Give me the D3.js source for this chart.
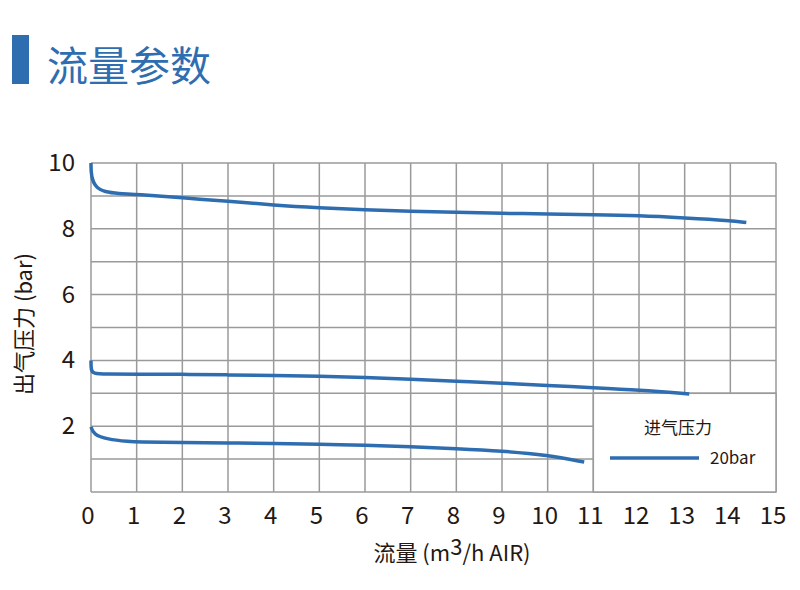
<!DOCTYPE html>
<html><head><meta charset="utf-8">
<script src="https://cdn.jsdelivr.net/npm/d3@7"></script>
<style>body{margin:0;background:#fff;}svg{display:block;font-family:"Noto Sans CJK SC","Noto Sans",sans-serif;}</style>
</head><body>
<svg id="c" width="800" height="590"></svg>
<script>
const xTicks = [0,1,2,3,4,5,6,7,8,9,10,11,12,13,14,15];
const yGrid = [0,1,2,3,4,5,6,7,8,9,10];
const yTickLabels = [2,4,6,8,10];
const seriesTop = [[0,10],[0,9.6],[0.1,9.25],[0.3,9.12],[0.6,9.07],[1,9.05],[2,8.94],[3,8.84],[4,8.72],[5,8.64],[6,8.58],[7,8.53],[8,8.5],[9,8.47],[10,8.45],[11,8.43],[12,8.4],[13,8.33],[14,8.25],[14.35,8.19]];
const seriesMid = [[0,4.0],[0,3.7],[0.05,3.6],[0.3,3.58],[1,3.58],[2,3.58],[3,3.56],[4,3.54],[5,3.52],[6,3.48],[7,3.43],[8,3.37],[9,3.31],[10,3.24],[11,3.17],[12,3.1],[13.1,2.98]];
const seriesLow = [[0,1.98],[0.05,1.76],[0.35,1.6],[0.85,1.53],[1,1.52],[2,1.51],[3,1.49],[4,1.48],[5,1.45],[6,1.42],[7,1.38],[8,1.32],[9,1.25],[10,1.12],[10.8,0.91]];
const legendTitle = "进气压力";
const legendLabel = "20bar";
const title = "流量参数";
const xTitleParts = ["流量 (m","3","/h AIR)"];
const yTitle = "出气压力 (bar)";

const svg = d3.select("#c");
const blue = "#2f6db1", grid = "#9a9a9a", txt = "#231815";
const x = d3.scaleLinear().domain([0,15]).range([91,776]);
const y = d3.scaleLinear().domain([0,10]).range([492,163]);

// header
svg.append("rect").attr("x",12).attr("y",35).attr("width",17).attr("height",49).attr("fill",blue);
svg.append("text").attr("x",47).attr("y",81).attr("font-size",41).attr("fill",blue).text(title);

// grid
const g = svg.append("g");
g.selectAll(".v").data(xTicks).join("line")
 .attr("x1",d=>x(d)).attr("x2",d=>x(d)).attr("y1",y(0)).attr("y2",y(10))
 .attr("stroke",grid).attr("stroke-width",1.5);
g.selectAll(".h").data(yGrid).join("line")
 .attr("x1",x(0)).attr("x2",x(15)).attr("y1",d=>y(d)).attr("y2",d=>y(d))
 .attr("stroke",grid).attr("stroke-width",1.5);

// legend box
svg.append("rect").attr("x",x(11)).attr("y",y(3)).attr("width",x(15)-x(11)).attr("height",y(0)-y(3))
 .attr("fill","#fff").attr("stroke",grid).attr("stroke-width",1.5);
svg.append("text").attr("x",678).attr("y",434).attr("text-anchor","middle").attr("font-size",17).attr("fill",txt).text(legendTitle);
svg.append("line").attr("x1",610).attr("x2",699).attr("y1",458).attr("y2",458).attr("stroke",blue).attr("stroke-width",3.5);
svg.append("text").attr("x",710).attr("y",464).attr("font-size",17).attr("fill",txt).text(legendLabel);

// lines
const line = d3.line().x(d=>x(d[0])).y(d=>y(d[1])).curve(d3.curveBasis);
[seriesTop, seriesMid, seriesLow].forEach(s=>{
  svg.append("path").attr("d",line(s)).attr("fill","none").attr("stroke",blue).attr("stroke-width",3.5).attr("stroke-linecap","butt");
});

// tick labels
svg.selectAll(".xt").data(xTicks).join("text")
 .attr("x",d=>x(d)-3).attr("y",524).attr("text-anchor","middle").attr("font-size",24).attr("fill",txt).text(d=>d);
svg.selectAll(".yt").data(yTickLabels).join("text")
 .attr("x",75).attr("y",d=>y(d)+8).attr("text-anchor","end").attr("font-size",24).attr("fill",txt).text(d=>d);

// axis titles
const xt = svg.append("text").attr("x",452).attr("y",561).attr("text-anchor","middle").attr("font-size",22).attr("fill",txt);
xt.append("tspan").text(xTitleParts[0]);
xt.append("tspan").attr("dy",-6).text(xTitleParts[1]);
xt.append("tspan").attr("dy",6).text(xTitleParts[2]);
svg.append("text").attr("transform","translate(32,324) rotate(-90)").attr("text-anchor","middle").attr("font-size",22).attr("fill",txt).text(yTitle);
</script>
</body></html>
